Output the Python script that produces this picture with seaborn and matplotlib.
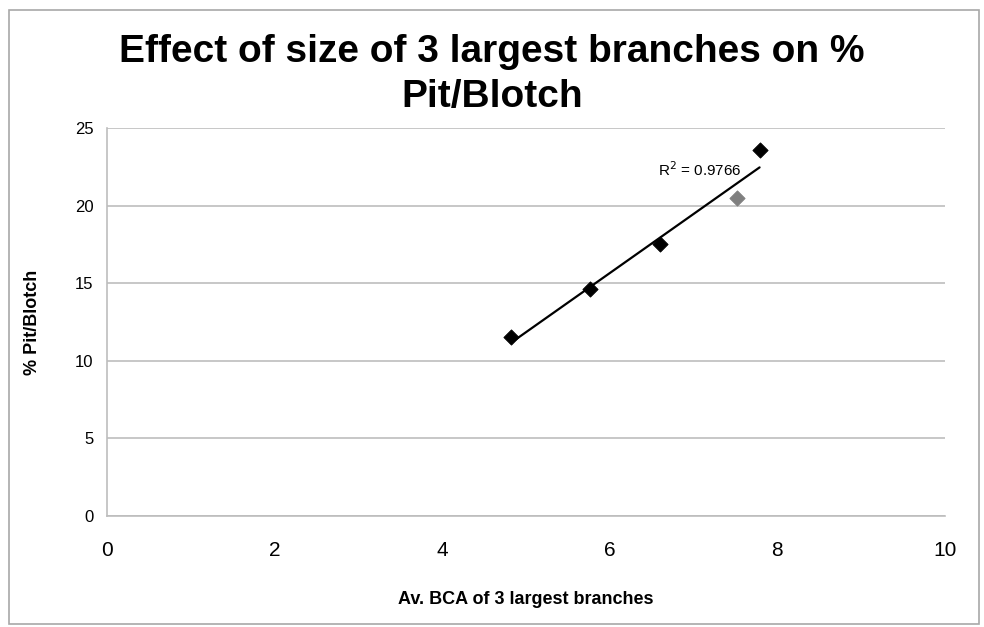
import numpy as np
import pandas as pd
import matplotlib
matplotlib.use("Agg")
import matplotlib.pyplot as plt
import seaborn as sns
from matplotlib.patches import Rectangle


# ── Data ──────────────────────────────────────────────────────────────────────

bca_avg   = [4.82, 5.76, 6.60, 7.52, 7.79]
pit_pct   = [11.5, 14.6, 17.5, 20.5, 23.6]
GRAY_IDX  = 3          # the one point drawn in grey
R2_LABEL  = "0.9766"   # as printed on the chart

x_ticks = [0, 2, 4, 6, 8, 10]
y_ticks = [0, 5, 10, 15, 20, 25]

df = pd.DataFrame({"bca": bca_avg, "pit": pit_pct})


# ── Figure ────────────────────────────────────────────────────────────────────

sns.set_style("white")
plt.rcParams["font.family"] = ["Liberation Sans", "DejaVu Sans"]
plt.rcParams["text.color"] = "black"
plt.rcParams["axes.labelcolor"] = "black"
plt.rcParams["xtick.color"] = "black"
plt.rcParams["ytick.color"] = "black"

fig = plt.figure(figsize=(9.84, 6.27), dpi=100)
ax = fig.add_axes([0.109, 0.177, 0.851, 0.619])

# outer chart border
fig.patches.append(Rectangle((0.009, 0.004), 0.986, 0.98, transform=fig.transFigure,
                             fill=False, edgecolor="#a8a8a8", linewidth=1.2))

sns.regplot(data=df, x="bca", y="pit", ax=ax, ci=None, truncate=True,
            scatter=False, line_kws=dict(color="black", linewidth=1.6))

sns.scatterplot(data=df.drop(index=GRAY_IDX), x="bca", y="pit", ax=ax,
                marker="D", s=60, color="black", edgecolor="black", zorder=4)
sns.scatterplot(data=df.loc[[GRAY_IDX]], x="bca", y="pit", ax=ax,
                marker="D", s=60, color="#7f7f7f", edgecolor="#7f7f7f", zorder=4)

ax.text(7.08, 21.7, f"R$^2$ = {R2_LABEL}", fontsize=11, ha="center", va="bottom")

ax.set_xlim(0, 10)
ax.set_ylim(0, 25)
ax.set_xticks(x_ticks)
ax.set_yticks(y_ticks)
ax.tick_params(axis="x", labelsize=15, length=4, colors="black", pad=18, direction="in")
ax.tick_params(axis="x", color="#999999")
ax.tick_params(axis="y", labelsize=12, length=4, pad=6, direction="out")
ax.tick_params(axis="y", color="#bdbdbd")
ax.yaxis.grid(True, color="#bdbdbd", linewidth=1.2)
ax.set_axisbelow(True)

for side in ["top", "right"]:
    ax.spines[side].set_visible(False)
for side in ["left", "bottom"]:
    ax.spines[side].set_color("#bdbdbd")
    ax.spines[side].set_linewidth(1.2)

ax.set_xlabel("Av. BCA of 3 largest branches", fontsize=13, fontweight="bold", labelpad=22)
ax.set_ylabel("% Pit/Blotch", fontsize=13, fontweight="bold", labelpad=24)

fig.text(0.5, 0.945, "Effect of size of 3 largest branches on %\nPit/Blotch",
         fontsize=28, fontweight="bold", ha="center", va="top", linespacing=1.3)

fig.savefig("out.png", dpi=100)
